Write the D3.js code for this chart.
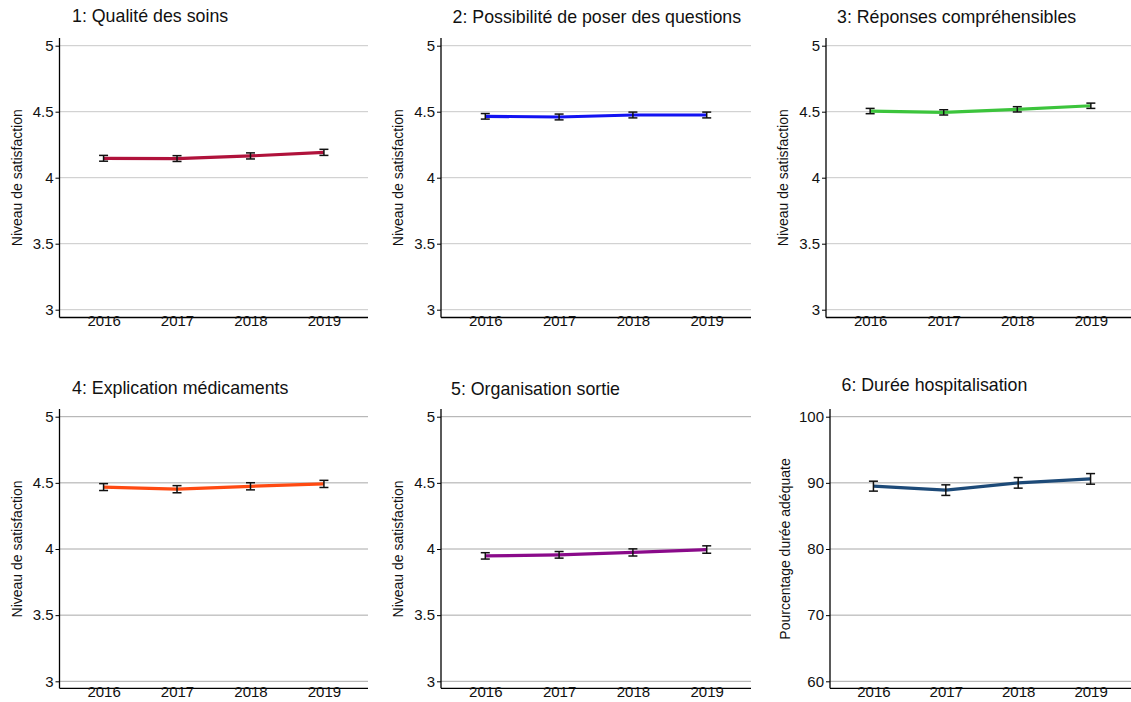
<!DOCTYPE html>
<html>
<head>
<meta charset="utf-8">
<script src="https://cdn.jsdelivr.net/npm/d3@7"></script>
<style>
  html, body { margin: 0; padding: 0; background: #fff; }
  svg { display: block; font-family: "Liberation Sans", Arial, sans-serif; }
</style>
</head>
<body>
<svg id="chart" width="1131" height="702"></svg>
<script>
// Survey years
const years = [2016, 2017, 2018, 2019];

// Panel titles
const titles = [
  "1: Qualité des soins",
  "2: Possibilité de poser des questions",
  "3: Réponses compréhensibles",
  "4: Explication médicaments",
  "5: Organisation sortie",
  "6: Durée hospitalisation"
];

// Y-axis titles
const yTitles = [
  "Niveau de satisfaction",
  "Niveau de satisfaction",
  "Niveau de satisfaction",
  "Niveau de satisfaction",
  "Niveau de satisfaction",
  "Pourcentage durée adéquate"
];

// Mean values per year
const qualiteSoins      = [4.147, 4.145, 4.165, 4.192];
const poserQuestions    = [4.465, 4.460, 4.475, 4.475];
const reponsesCompr     = [4.505, 4.495, 4.518, 4.545];
const explicationMedic  = [4.468, 4.452, 4.474, 4.492];
const organisationSort  = [3.948, 3.956, 3.974, 3.996];
const dureeHospit       = [89.5, 88.9, 90.0, 90.6];

// Half-width of the confidence intervals
const qualiteSoinsCI     = [0.022, 0.022, 0.023, 0.023];
const poserQuestionsCI   = [0.021, 0.022, 0.022, 0.022];
const reponsesComprCI    = [0.020, 0.020, 0.020, 0.020];
const explicationMedicCI = [0.026, 0.027, 0.027, 0.027];
const organisationSortCI = [0.024, 0.025, 0.027, 0.028];
const dureeHospitCI      = [0.75, 0.8, 0.8, 0.8];

// Y-axis ticks
const satisfactionTicks = [3, 3.5, 4, 4.5, 5];
const satisfactionTickLabels = ["3", "3.5", "4", "4.5", "5"];
const percentTicks = [60, 70, 80, 90, 100];
const percentTickLabels = ["60", "70", "80", "90", "100"];

const seriesValues = [qualiteSoins, poserQuestions, reponsesCompr, explicationMedic, organisationSort, dureeHospit];
const seriesCI = [qualiteSoinsCI, poserQuestionsCI, reponsesComprCI, explicationMedicCI, organisationSortCI, dureeHospitCI];

// Styling and layout of each panel
const lineColors = ["#b0123b", "#1212f2", "#3cc43c", "#ff4a12", "#8a0a8a", "#1d4a78"];
const layout = [
  { left: 59.5, right: 368,  top: 38,  axisY: 317.5, yHi: 45.7,  yLo: 309.7, tx: 72,    ty: 22,  grid: "#c8c8c8", pct: false },
  { left: 441,  right: 751,  top: 38,  axisY: 317.5, yHi: 45.7,  yLo: 309.7, tx: 452.5, ty: 23,  grid: "#c8c8c8", pct: false },
  { left: 826,  right: 1135, top: 38,  axisY: 317.5, yHi: 45.7,  yLo: 309.7, tx: 837,   ty: 23,  grid: "#c8c8c8", pct: false },
  { left: 59.5, right: 368,  top: 409, axisY: 688.3, yHi: 416.7, yLo: 681.3, tx: 72,    ty: 394, grid: "#a8a8a8", pct: false },
  { left: 441,  right: 751,  top: 409, axisY: 688.3, yHi: 416.7, yLo: 681.3, tx: 451,   ty: 395, grid: "#a8a8a8", pct: false },
  { left: 830,  right: 1134, top: 409, axisY: 688.3, yHi: 416.7, yLo: 681.3, tx: 841.5, ty: 391, grid: "#a8a8a8", pct: true }
];

const svg = d3.select("#chart");

layout.forEach((p, i) => {
  const g = svg.append("g");
  const ticks = p.pct ? percentTicks : satisfactionTicks;
  const tickLabels = p.pct ? percentTickLabels : satisfactionTickLabels;

  const x = d3.scalePoint().domain(years).range([p.left, p.right]).padding(0.6);
  const y = d3.scaleLinear().domain([ticks[0], ticks[ticks.length - 1]]).range([p.yLo, p.yHi]);

  // horizontal grid lines
  g.selectAll("line.grid").data(ticks).join("line")
    .attr("class", "grid")
    .attr("x1", p.left).attr("x2", p.right)
    .attr("y1", d => y(d)).attr("y2", d => y(d))
    .attr("stroke", p.grid).attr("stroke-width", 1);

  // y axis
  const yAxis = d3.axisLeft(y).tickValues(ticks)
    .tickFormat((d, k) => tickLabels[k]).tickSize(4).tickPadding(2);
  const ya = g.append("g").attr("transform", `translate(${p.left},0)`).call(yAxis);
  ya.attr("font-size", 15).attr("font-family", "Liberation Sans, Arial, sans-serif");
  ya.select(".domain").remove();
  ya.selectAll(".tick line").attr("stroke", "#000");
  ya.selectAll(".tick text").attr("fill", "#111");
  g.append("line")
    .attr("x1", p.left).attr("x2", p.left)
    .attr("y1", p.top).attr("y2", p.axisY)
    .attr("stroke", "#000").attr("stroke-width", 1.3);

  // x axis line and year labels
  g.append("line")
    .attr("x1", p.left).attr("x2", p.right)
    .attr("y1", p.axisY).attr("y2", p.axisY)
    .attr("stroke", "#000").attr("stroke-width", 1.3);
  const xAxis = d3.axisBottom(x).tickSize(0).tickPadding(0);
  const xa = g.append("g").attr("transform", `translate(0,${p.axisY})`).call(xAxis);
  xa.attr("font-size", 15).attr("font-family", "Liberation Sans, Arial, sans-serif");
  xa.select(".domain").remove();
  xa.selectAll(".tick text").attr("fill", "#111")
    .attr("dy", null).attr("y", 8.7);

  // y-axis title
  g.append("text")
    .attr("transform", `translate(${p.left - (p.pct ? 40 : 38)},${(p.yHi + p.yLo) / 2}) rotate(-90)`)
    .attr("text-anchor", "middle")
    .attr("font-size", 14).attr("fill", "#111")
    .text(yTitles[i]);

  // panel title
  g.append("text")
    .attr("x", p.tx).attr("y", p.ty)
    .attr("font-size", 17.8).attr("fill", "#111")
    .text(titles[i]);

  const vals = seriesValues[i];
  const ci = seriesCI[i];
  const pts = years.map((yr, k) => ({ yr, v: vals[k], e: ci[k] }));

  // trend line
  g.append("path").datum(pts)
    .attr("fill", "none")
    .attr("stroke", lineColors[i]).attr("stroke-width", 3.2)
    .attr("stroke-linejoin", "round")
    .attr("d", d3.line().x(d => x(d.yr)).y(d => y(d.v)));

  // confidence interval bars
  const eb = g.selectAll("g.err").data(pts).join("g").attr("class", "err")
    .attr("stroke", "#111").attr("stroke-width", 1.5);
  eb.append("line")
    .attr("x1", d => x(d.yr)).attr("x2", d => x(d.yr))
    .attr("y1", d => y(d.v - d.e)).attr("y2", d => y(d.v + d.e));
  eb.append("line")
    .attr("x1", d => x(d.yr) - 4.5).attr("x2", d => x(d.yr) + 4.5)
    .attr("y1", d => y(d.v + d.e)).attr("y2", d => y(d.v + d.e));
  eb.append("line")
    .attr("x1", d => x(d.yr) - 4.5).attr("x2", d => x(d.yr) + 4.5)
    .attr("y1", d => y(d.v - d.e)).attr("y2", d => y(d.v - d.e));
});
</script>
</body>
</html>
